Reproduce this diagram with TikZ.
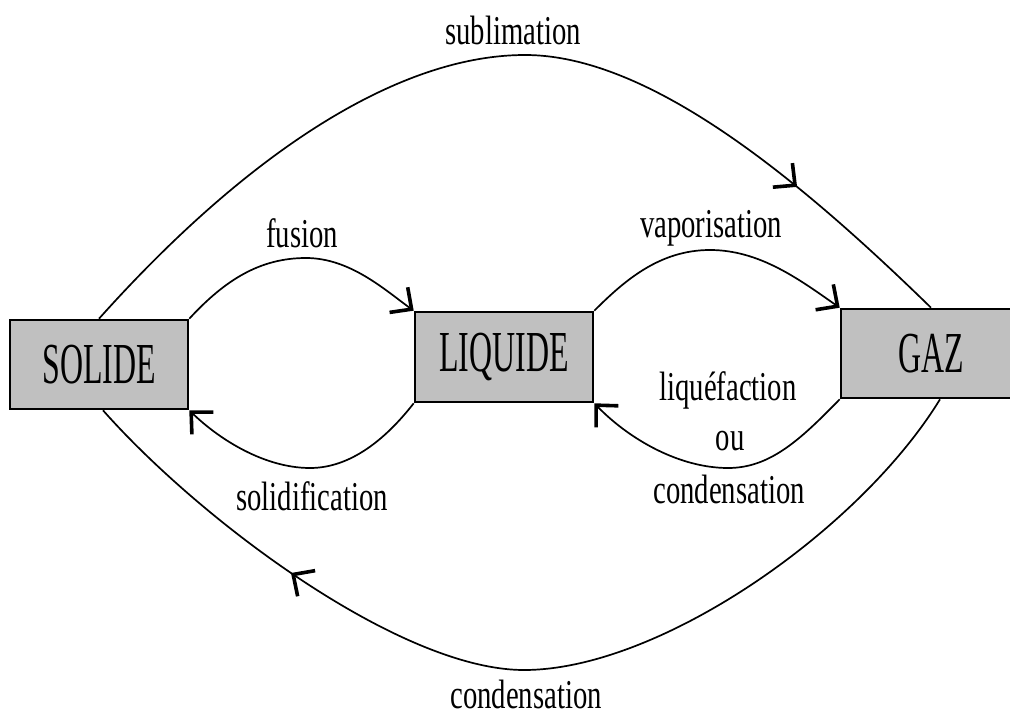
\documentclass[tikz,border=0pt]{standalone}
\usepackage{fontspec}
\setmainfont{Liberation Serif}
\usetikzlibrary{arrows.meta,decorations.markings}
\tikzset{
  barb/.tip={Straight Barb[length=16pt,width=31pt,line width=3.6pt]},
  phase/.style={draw=black,line width=2.6pt,fill={rgb,255:red,192;green,192;blue,192},
    minimum width=178pt,minimum height=89pt,inner sep=0pt},
  boxtext/.style={xscale=0.55,font=\fontsize{58}{60}\selectfont},
  lbl/.style={anchor=base,inner sep=0pt,font=\fontsize{41}{45}\selectfont,xscale=0.7},
  conn/.style={line width=1.7pt,draw=black},
  midarrow/.style={postaction={decorate,decoration={markings,mark=at position #1 with {\arrow{barb}}}}}
}
\begin{document}
\begin{tikzpicture}[x=1pt,y=-1pt]
\useasboundingbox (0,0) rectangle (1010,717);
\clip (0,0) rectangle (1010,717);
\fill[white] (0,0) rectangle (1010,717);
% phase boxes
\node[phase] (S) at (99,364.5) {};
\node[boxtext] (St) at (S.center) {SOLIDE};
\node[phase,minimum height=90pt] (L) at (504,357) {};
\node[boxtext] (Lt) at (L.center) {LIQUIDE};
\node[phase,minimum width=180pt] (G) at (931,353.5) {};
\node[boxtext] (Gt) at (G.center) {GAZ};
% connectors
\draw[conn,midarrow=0.82] (S.north) .. controls (250,150) and (400,55) .. (525,55)
   .. controls (650,55) and (800,180) .. (G.north);
\draw[conn,-barb] (S.north east) .. controls (225,280) and (260,258) .. (306,258)
   .. controls (350,258) and (385,290) .. (L.north west);
\draw[conn,-barb] (L.north east) .. controls (625,280) and (660,250) .. (710,250)
   .. controls (760,250) and (800,280) .. (G.north west);
\draw[conn,-barb] (G.south west) .. controls (800,440) and (770,468) .. (728,468)
   .. controls (680,468) and (630,440) .. (L.south east);
\draw[conn,-barb] (L.south west) .. controls (385,440) and (350,468) .. (310,468)
   .. controls (265,468) and (220,440) .. (S.south east);
\draw[conn,midarrow=0.755] ([xshift=9pt]G.south) .. controls (860,530) and (660,670) .. (524,670)
   .. controls (400,670) and (200,520) .. ([xshift=4pt]S.south);
% labels
\node[lbl] (l1) at (513,45) {sublimation};
\node[lbl] (l2) at (302,247) {fusion};
\node[lbl] (l3) at (711,237) {vaporisation};
\node[lbl] (l4) at (728,400) {liquéfaction};
\node[lbl] (l5) at (730,450) {ou};
\node[lbl] (l6) at (729,503) {condensation};
\node[lbl] (l7) at (312,510) {solidification};
\node[lbl] (l8) at (526,708) {condensation};
\end{tikzpicture}
\end{document}
